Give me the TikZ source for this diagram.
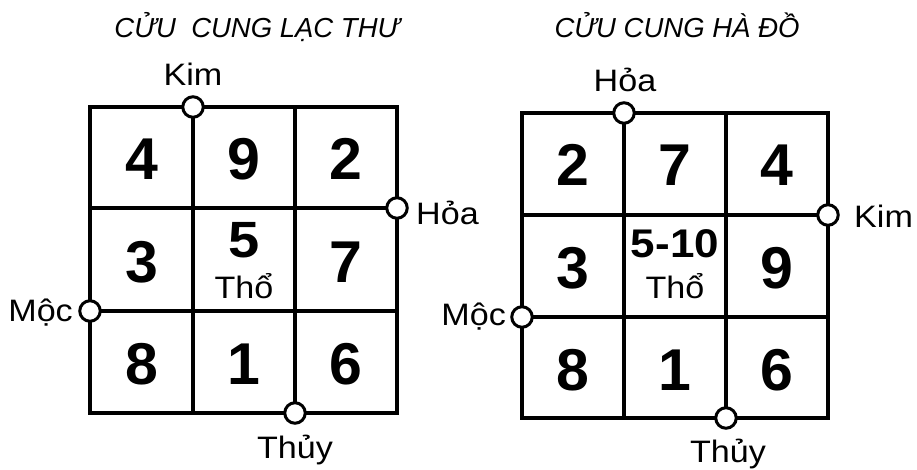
\documentclass[tikz,border=0pt]{standalone}
\usepackage{fontspec}
\setmainfont{Liberation Sans}
\newfontfamily\lblfont{Liberation Sans}[FakeStretch=1.1]
\newfontfamily\midfont{Liberation Sans}[FakeStretch=1.1]
\begin{document}
\begin{tikzpicture}[x=1pt,y=-1pt,
  gridline/.style={line width=3.2pt, line cap=rect},
  port/.style={circle, draw, fill=white, line width=3pt, minimum size=20.5pt, inner sep=0pt},
  digit/.style={anchor=base, inner sep=0pt, font=\fontsize{59}{62}\selectfont\bfseries},
  lbl/.style={inner sep=0pt, font=\lblfont\fontsize{31}{34}\selectfont},
  ttl/.style={anchor=base, inner sep=0pt, font=\fontsize{27.5}{30}\selectfont\itshape}]
\useasboundingbox (0,0) rectangle (917,470);
% titles
\node[ttl] (t1) at (257,38) {CỬU\ \ CUNG LẠC THƯ};
\node[ttl] (t2) at (677,38) {CỬU CUNG HÀ ĐỒ};
% left grid
\draw[gridline] (90,107) rectangle (397,413);
\draw[gridline] (193,107) -- (193,413);
\draw[gridline] (295,107) -- (295,413);
\draw[gridline] (90,208) -- (397,208);
\draw[gridline] (90,311) -- (397,311);
\node[digit] (a4) at (141.5,180) {4};
\node[digit] (a9) at (244,180) {9};
\node[digit] (a2) at (346,180) {2};
\node[digit] (a3) at (141.5,282) {3};
\node[digit, font=\midfont\fontsize{51}{54}\selectfont\bfseries] (a5) at (244,257) {5};
\node[lbl, anchor=base] (atho) at (244,298) {Thổ};
\node[digit] (a7) at (346,282) {7};
\node[digit] (a8) at (141.5,384) {8};
\node[digit] (a1) at (244,384) {1};
\node[digit] (a6) at (346,384) {6};
\node[port] (pk1) at (193,107) {};
\node[port] (ph1) at (397,208) {};
\node[port] (pm1) at (90,311) {};
\node[port] (pt1) at (295,413) {};
\node[lbl, anchor=base] (lk1) at (193,86) {Kim};
\node[lbl, anchor=base west] (lh1) at (416,225) {Hỏa};
\node[lbl, anchor=base east] (lm1) at (73,321) {Mộc};
\node[lbl, anchor=base] (lt1) at (295,458) {Thủy};
% right grid
\draw[gridline] (522,113) rectangle (828,418);
\draw[gridline] (624,113) -- (624,418);
\draw[gridline] (726,113) -- (726,418);
\draw[gridline] (522,215) -- (828,215);
\draw[gridline] (522,317) -- (828,317);
\node[digit] (b2) at (573,186) {2};
\node[digit] (b7) at (675,186) {7};
\node[digit] (b4) at (777,186) {4};
\node[digit] (b3) at (573,288) {3};
\node[digit, font=\midfont\fontsize{40}{44}\selectfont\bfseries] (b5) at (675,257) {5-10};
\node[lbl, anchor=base] (btho) at (675,298) {Thổ};
\node[digit] (b9) at (777,288) {9};
\node[digit] (b8) at (573,390) {8};
\node[digit] (b1) at (675,390) {1};
\node[digit] (b6) at (777,390) {6};
\node[port] (ph2) at (624,113) {};
\node[port] (pk2) at (828,215) {};
\node[port] (pm2) at (522,317) {};
\node[port] (pt2) at (726,418) {};
\node[lbl, anchor=base] (lh2) at (625,92) {Hỏa};
\node[lbl, anchor=base west] (lk2) at (854,228) {Kim};
\node[lbl, anchor=base east] (lm2) at (506,325) {Mộc};
\node[lbl, anchor=base] (lt2) at (728,462.5) {Thủy};
\end{tikzpicture}
\end{document}
